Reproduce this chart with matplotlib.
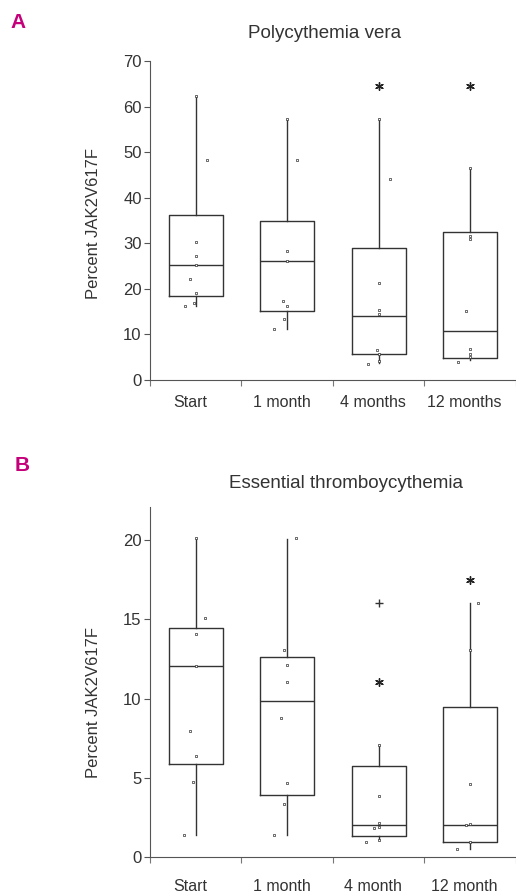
import numpy as np
import matplotlib
matplotlib.use('Agg')
import matplotlib.pyplot as plt

plt.rcParams['font.family'] = ['Liberation Sans Narrow', 'Liberation Sans', 'DejaVu Sans']

ink = '#333333'
pink = '#c4007a'

# panel A: polycythemia vera
labels_a = ['Start', '1 month', '4 months', '12 months']
med_a = [25.3, 26.1, 14.0, 10.8]
q1_a = [18.5, 15.2, 5.7, 4.8]
q3_a = [36.1, 34.8, 28.9, 32.4]
lo_a = [16.3, 11.3, 3.8, 4.4]
hi_a = [62.3, 57.2, 57.2, 46.6]
pts_a = [
    [62.3, 48.2, 30.2, 27.3, 25.3, 22.2, 19.2, 17.0, 16.3],
    [57.2, 48.2, 28.3, 26.2, 17.4, 16.3, 13.4, 11.3],
    [57.2, 44.2, 21.2, 15.3, 14.4, 6.6, 5.7, 4.2, 3.6],
    [46.6, 31.7, 31.0, 15.2, 6.8, 5.7, 5.0, 4.0],
]
jit_a = [
    [0, 0.12, 0, 0, 0, -0.06, 0, -0.02, -0.12],
    [0, 0.11, 0, 0, -0.05, 0, -0.03, -0.14],
    [0, 0.12, 0, 0, 0, -0.02, 0, 0, -0.12],
    [0, 0, 0, -0.05, 0, 0, 0, -0.13],
]
star_a = [None, None, 64.6, 64.6]

# panel B: essential thrombocythemia
labels_b = ['Start', '1 month', '4 month', '12 month']
med_b = [12.05, 9.84, 2.0, 2.0]
q1_b = [5.86, 3.92, 1.31, 0.95]
q3_b = [14.43, 12.6, 5.73, 9.48]
lo_b = [1.41, 1.37, 1.05, 0.53]
hi_b = [20.1, 20.05, 7.06, 16.0]
pts_b = [
    [20.1, 15.06, 14.05, 12.05, 7.96, 6.36, 4.74, 1.41],
    [20.1, 13.06, 12.1, 11.05, 8.74, 4.64, 3.37, 1.41],
    [7.06, 3.88, 2.15, 1.9, 1.85, 1.05, 0.95],
    [16.05, 13.06, 4.59, 2.1, 2.0, 0.95, 0.53],
]
jit_b = [
    [0, 0.1, 0, 0, -0.06, 0, -0.03, -0.13],
    [0.1, -0.03, 0, 0, -0.07, 0, -0.03, -0.14],
    [0, 0, 0, 0, -0.05, 0, -0.14],
    [0.09, 0, 0, 0, -0.05, 0, -0.14],
]
star_b = [None, None, 11.06, 17.48]
plus_b = [None, None, 16.05, None]


def panel(ax, labels, med, q1, q3, lo, hi, pts, jit, stars, ymax, yticks, lab_y):
    stats = []
    for i in range(len(labels)):
        stats.append(dict(med=med[i], q1=q1[i], q3=q3[i], whislo=lo[i], whishi=hi[i], fliers=[]))
    pos = np.arange(1, len(labels) + 1)
    lp = dict(color=ink, linewidth=1.0)
    ax.bxp(stats, positions=pos, widths=0.59, showcaps=False,
           boxprops=lp, whiskerprops=lp, medianprops=lp, capprops=lp)
    for i in range(len(labels)):
        xs = pos[i] + np.array(jit[i])
        ax.scatter(xs, pts[i], marker='s', s=3, facecolors='white',
                   edgecolors=ink, linewidths=0.5, zorder=3)
        if stars[i] is not None:
            ax.scatter([pos[i]], [stars[i]], marker=(6, 2, 0), s=30,
                       color='#222222', linewidths=1.0, zorder=3)
    ax.set_xlim(0.5, 4.5)
    ax.set_ylim(0, ymax)
    ax.set_yticks(yticks)
    ax.set_xticks([0.5, 1.5, 2.5, 3.5, 4.5])
    ax.set_xticklabels([])
    for i, lab in enumerate(labels):
        ax.text(pos[i] - 0.06, lab_y, lab, transform=ax.get_xaxis_transform(),
                ha='center', va='center', fontsize=11.5, color=ink)
    ax.tick_params(axis='y', length=4, width=0.8, colors='#555555',
                   labelcolor=ink, labelsize=12, pad=2)
    ax.tick_params(axis='x', length=4, width=0.8, colors='#777777')
    for s in ['top', 'right']:
        ax.spines[s].set_visible(False)
    for s in ['left', 'bottom']:
        ax.spines[s].set_color('#555555')
        ax.spines[s].set_linewidth(0.8)
    ax.set_ylabel('Percent JAK2V617F', fontsize=12, color=ink)


fig = plt.figure(figsize=(5.16, 8.96), dpi=100)
ax1 = fig.add_axes([0.2907, 0.5759, 0.709, 0.356])
ax2 = fig.add_axes([0.2907, 0.0435, 0.709, 0.391])

panel(ax1, labels_a, med_a, q1_a, q3_a, lo_a, hi_a, pts_a, jit_a, star_a,
      70, [0, 10, 20, 30, 40, 50, 60, 70], -0.072)
panel(ax2, labels_b, med_b, q1_b, q3_b, lo_b, hi_b, pts_b, jit_b, star_b,
      22.1, [0, 5, 10, 15, 20], -0.085)
ax1.yaxis.set_label_coords(-0.134, 0.49)
ax2.yaxis.set_label_coords(-0.134, 0.44)

for i, v in enumerate(plus_b):
    if v is not None:
        ax2.scatter([i + 1], [v], marker='+', s=40, color=ink, linewidths=1.0, zorder=3)

fig.text(325 / 516, 1 - 33 / 896, 'Polycythemia vera', fontsize=13.5, color=ink,
         ha='center', va='center')
fig.text(346 / 516, 1 - 483 / 896, 'Essential thromboycythemia', fontsize=13.5, color=ink,
         ha='center', va='center')
fig.text(0.035, 0.975, 'A', color=pink, fontsize=15, fontweight='bold', ha='center', va='center')
fig.text(0.043, 0.48, 'B', color=pink, fontsize=15, fontweight='bold', ha='center', va='center')

fig.savefig('out.png', dpi=100)
